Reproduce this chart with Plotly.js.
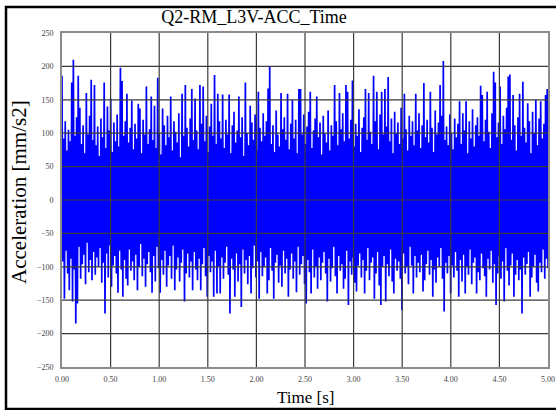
<!DOCTYPE html>
<html>
<head>
<meta charset="utf-8">
<script src="https://cdn.plot.ly/plotly-3.0.1.min.js"></script>
<style>html,body{margin:0;padding:0;background:#fff;}#chart{width:556px;height:410px;}</style>
</head>
<body>
<div id="chart"></div>
<script>
// Chart text
const chartTitle = "Q2-RM_L3V-ACC_Time";
const xLabel = "Time [s]";
const yLabel = "Acceleration [mm/s2]";

// Tick values / labels
const xTicks = [0, 0.5, 1, 1.5, 2, 2.5, 3, 3.5, 4, 4.5, 5];
const xTickText = ["0.00","0.50","1.00","1.50","2.00","2.50","3.00","3.50","4.00","4.50","5.00"];
const yTicks = [-250, -200, -150, -100, -50, 0, 50, 100, 150, 200, 250];

// Record length (s)
const duration = 5;

// Positive excursions of the signal, read left to right (mm/s2)
const upper = [
186, 92,118, 74,105, 88,176,210, 96,124,186,138, 84,112, 70,160, 98,126,180, 90,
172, 82,110, 66,122, 94,176, 78,140,104,152, 72,116, 88,128, 80,198,178, 96,118,
159, 86,108,149, 76,114, 92,144,137, 70,120, 98,170, 84,106,155, 90,141, 78,183,
100, 68,137,112, 82,126, 94,155, 74,118,102, 86,130, 64,159, 96,172,108, 80,122,
166, 90,152,104, 76,172,114,170, 88,126, 72,110,144, 96,187, 84,159,118, 92,158,
 78,120, 98,158, 70,112,132, 86,104,155, 94,124, 66,176,100, 82,141,116, 90,128,
 74,162,108, 88,130, 96,118,167,200, 84,112, 72,134, 98, 80,160,106,124, 90,159,
 76,114,150, 92,120, 70,166,166, 98,128, 84,110,132,162, 78,104,122,155, 94,116,
 68,126,100, 86,134, 74,112, 96,172,118, 82,160,106,130, 88,172,162, 92,120,179,
 80,114, 96,136, 72,108,124,166, 90,160,102, 84,186,118,162, 76,128,162, 98,166,
110,184, 88,122, 70,132,100,116, 84,138, 92,159,106, 74,126, 96,118, 82,159,104,
130, 78,112,175, 94,120, 86,162,108, 72,134, 98,116,172,126,208, 90,110, 82,128,
100, 76,122, 94,114,148, 84,130,104,148, 70,118, 92,136, 80,112,124, 96,171,157,
 88,120,162,102, 78,130,192,176, 94,116,170, 84,126,106,138,185,188, 90,157,112,
 74,124,159, 96,177,108, 86,145,118, 70,132,100,150, 82,122,148, 92,114,157,166
];

// Negative excursions of the signal, read left to right (mm/s2)
const lower = [
 -92,-148, -76,-110,-135, -88,-152,-104,-185,-155, -70,-118, -96, -82,-126, -64,-108, -90,-120, -78,
-112, -86,-100, -72,-124, -94,-170, -80,-116, -68,-130, -98, -84,-110,-139, -76,-104,-145, -90,-118,
-128, -74,-106, -92,-120, -82,-135,-100, -66,-114, -88,-130, -96, -78,-108,-139, -84,-122, -70,-102,
-139, -90,-112, -76,-130, -98, -84,-118, -68,-135,-104, -86,-122, -94, -74,-152,-110, -80,-116, -92,
-135, -78,-104,-120, -88,-135, -96, -72,-114,-145, -84,-108, -92,-145, -76,-140,-100,-140, -86,-118,
 -94, -70,-112,-170, -88,-104,-145, -80,-122, -96,-160, -74,-110, -90,-126, -84,-140,-102, -68,-116,
 -92,-148, -78,-114,-100, -86,-140,-120, -72,-106,-148, -94, -82,-124, -98,-130, -76,-110, -88,-145,
-104, -80,-118, -92,-138, -70,-112, -96, -84,-126,-155, -90,-108,-140, -74,-116,-100,-133, -86,-120,
 -94, -78,-110,-152, -88,-122,-102, -70,-114,-140, -84,-106, -96,-133,-118, -76,-157, -92,-112, -86,
-124,-137, -98, -80,-116, -90,-140,-106, -72,-120, -94, -86,-148,-110, -78,-128,-157,-100, -84,-152,
 -96,-114, -74,-122,-140, -88,-106, -92,-118,-165, -80,-110,-100,-126, -70, -98,-140, -84,-116, -94,
-108, -82,-137,-120, -96, -76,-112, -90,-145,-104,-124, -86,-100, -72,-118,-167, -94,-110, -84,-140,
 -98,-116, -78,-106,-145, -90,-122, -82,-140,-100,-112, -74,-126, -94, -86,-140,-108,-120, -80,-102,
-114,-145, -88,-104, -76,-124, -96,-157,-110, -84,-118, -92,-152, -72,-106,-128, -98, -80,-145,-112,
 -90,-120,-104,-170, -86,-112, -96, -78,-145,-116,-100, -82,-124,-137, -94,-108, -74,-118, -88,-102
];

// Interleave the two excursion lists into one sampled time series
const n = Math.min(upper.length, lower.length);
const dt = duration / (2 * n - 1);
const t = [], acc = [];
for (let i = 0; i < n; i++) {
  t.push(2 * i * dt); acc.push(upper[i]);
  t.push((2 * i + 1) * dt); acc.push(lower[i]);
}

// Plot area geometry (px)
const W = 556, H = 410, L = 62, R = 8, T = 33, B = 43;
const pw = W - L - R, ph = H - T - B;
const px = v => (v - L) / pw;
const py = v => (H - B - v) / ph;

const serif = "Liberation Serif, Times New Roman, serif";

const shapes = [];
xTicks.slice(1, -1).forEach(v => shapes.push({type:'line', xref:'x', yref:'paper', x0:v, x1:v, y0:0, y1:1, layer:'above', line:{color:'#3a3a3a', width:1.2}}));
yTicks.slice(1, -1).forEach(v => shapes.push({type:'line', xref:'paper', yref:'y', x0:0, x1:1, y0:v, y1:v, layer:'above', line:{color:'#3a3a3a', width:1.2}}));
// outer frame
shapes.push({type:'rect', xref:'paper', yref:'paper', x0:px(6), x1:px(580), y0:py(409), y1:py(7), layer:'above', line:{color:'#000', width:2.5}});

const trace = {
  type: 'scatter', mode: 'lines', x: t, y: acc,
  line: {color: '#0000ff', width: 1.7, simplify: false}, hoverinfo: 'skip'
};

const layout = {
  width: W, height: H,
  margin: {l: L, r: R, t: T, b: B, pad: 0},
  paper_bgcolor: '#fff', plot_bgcolor: '#fff',
  showlegend: false,
  title: {text: chartTitle, font: {family: serif, size: 18, color: '#000'}, x: 254 / W, xref: 'container', xanchor: 'center', y: 1 - 17 / H, yref: 'container', yanchor: 'middle'},
  xaxis: {range: [0, 5], tickvals: xTicks, ticktext: xTickText, showgrid: false, zeroline: false,
          showline: true, mirror: true, linecolor: '#8c8c8c', linewidth: 2, ticks: '',
          ticklabelstandoff: 3, tickfont: {family: serif, size: 8, color: '#444'}, fixedrange: true},
  yaxis: {range: [-250, 250], tickvals: yTicks, showgrid: false, zeroline: false,
          showline: true, mirror: true, linecolor: '#8c8c8c', linewidth: 2, ticks: '',
          ticklabelstandoff: 5, tickfont: {family: serif, size: 8, color: '#444'}, fixedrange: true},
  annotations: [
    {text: yLabel, xref: 'paper', yref: 'paper', x: px(19), y: py(192), xanchor: 'center', yanchor: 'middle', textangle: -90, showarrow: false, font: {family: serif, size: 21, color: '#000'}},
    {text: xLabel, xref: 'paper', yref: 'paper', x: px(305), y: py(398), xanchor: 'center', yanchor: 'middle', showarrow: false, font: {family: serif, size: 17, color: '#000'}}
  ],
  shapes: shapes
};

Plotly.newPlot('chart', [trace], layout, {displayModeBar: false, staticPlot: true});
</script>
</body>
</html>
